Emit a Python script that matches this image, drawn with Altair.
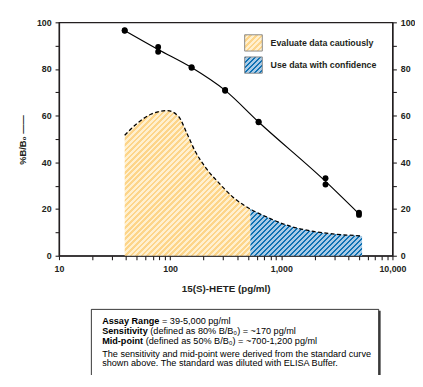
import math
import json
import altair as alt
import pandas as pd

# ---------------- data ----------------
std_conc = [39, 39, 78, 78, 156, 156, 312.5, 312.5, 625, 625, 2500, 2500, 5000, 5000]
std_bb0 = [96.6, 96.4, 89.4, 87.4, 80.8, 80.5, 71.0, 70.7, 57.4, 57.2, 33.2, 30.5, 18.4, 17.5]

zone_conc = [39, 51, 67, 94, 119, 141, 167, 212, 277, 364, 527, 716, 1075, 1845, 3165, 5330]
zone_bb0 = [51.6, 56.9, 60.6, 62.2, 59.7, 52.6, 45.0, 37.3, 31.0, 25.3, 20.0, 16.9, 13.4, 10.6, 9.2, 8.5]
zone_split = 527
zone_labels = ["Evaluate data cautiously", "Use data with confidence"]

x_decades = [10, 100, 1000, 10000]
y_ticks = [0, 10, 20, 30, 40, 50, 60, 70, 80, 90, 100]

box_bold = ["Assay Range", "Sensitivity", "Mid-point"]
box_rest = ["= 39-5,000 pg/ml",
            "(defined as 80% B/B\u2080) =  ~170 pg/ml",
            "(defined as 50% B/B\u2080) =  ~700-1,200 pg/ml"]
box_note = ["The sensitivity and mid-point were derived from the standard curve",
            "shown above. The standard was diluted with ELISA Buffer."]

# ---------------- tables ----------------
std_df = pd.DataFrame({"conc": std_conc, "bb0": std_bb0})
mean_df = std_df.groupby("conc", as_index=False)["bb0"].mean()
curve_df = pd.DataFrame({"conc": zone_conc, "bb0": zone_bb0})
yel = curve_df[curve_df.conc <= zone_split]
blu = curve_df[curve_df.conc >= zone_split]

# ---------------- geometry / style ----------------
W, H = 340, 238
FONT = "Liberation Sans"
INK = "#231f20"
Y_DARK, Y_LIGHT = "#fdd58a", "#fff0cf"
B_DARK, B_LIGHT = "#0f72b4", "#a9cbe6"
BOX_FS = 9.3
# Arial/Liberation bold advance widths (em) for laying out the bold run
BOLD_EM = {"A": .722, "s": .556, "a": .556, "y": .556, " ": .278, "R": .722, "n": .611,
           "g": .611, "e": .556, "S": .667, "i": .278, "t": .333, "v": .556, "M": .833,
           "d": .611, "-": .333, "p": .611, "o": .611}


def bold_width(s, fs):
    return sum(BOLD_EM.get(ch, .6) for ch in s) * fs


def px(v):
    return W * (math.log10(v) - 1) / 3


def stripes(dark, light, w, h, period, frac=0.5):
    n = (w + h) / math.sqrt(2) / period
    stops = []
    for i in range(int(math.ceil(n))):
        a, b, c = min(i / n, 1), min((i + frac) / n, 1), min((i + 1) / n, 1)
        stops += [(a, dark), (b, dark), (b, light), (c, light)]
    d = w * w + h * h
    return {"gradient": "linear", "x1": 0, "y1": 0,
            "x2": w * (w + h) / d, "y2": h * (w + h) / d,
            "stops": [{"offset": round(o, 5), "color": col} for o, col in stops]}


grad_y = stripes(Y_DARK, Y_LIGHT, px(yel.conc.max()) - px(yel.conc.min()),
                 H * yel.bb0.max() / 100, 4.0)
grad_b = stripes(B_DARK, B_LIGHT, px(blu.conc.max()) - px(blu.conc.min()),
                 H * blu.bb0.max() / 100, 3.6, 0.45)
SW_W, SW_H = 18, 16.6
sym_y = stripes(Y_DARK, Y_LIGHT, SW_W, SW_H, 4.0)
sym_b = stripes(B_DARK, B_LIGHT, SW_W, SW_H, 3.6, 0.45)

x_ticks = [d * k for d in x_decades[:-1] for k in range(1, 10)] + [x_decades[-1]]

X = alt.X("conc:Q",
          scale=alt.Scale(type="log", domain=[10, 10000], nice=False, zero=False),
          axis=alt.Axis(values=x_ticks, labelOverlap=False, labelFlush=False,
                        labelExpr="indexof(%s, datum.value) >= 0 ? format(datum.value, ',') : ''" % json.dumps(x_decades),
                        labelPadding=5,
                        title="15(S)-HETE (pg/ml)", titleFontSize=10, titleX=170, titleY=33,
                        titleBaseline="middle", titleAlign="center"))
Y = alt.Y("bb0:Q", stack=None,
          scale=alt.Scale(domain=[0, 100], nice=False, zero=False),
          axis=alt.Axis(values=y_ticks, labelExpr="datum.value % 20 == 0 ? datum.label : ''",
                        labelPadding=4, title="%B/B\u2080 \u2014\u2014", titleFontSize=9.5,
                        titleAngle=270, titleX=-37.5, titleY=119.5,
                        titleAlign="center", titleBaseline="middle"))
Y_right = alt.Y("bb0:Q", scale=alt.Scale(domain=[0, 100], nice=False, zero=False),
                axis=alt.Axis(orient="right", values=y_ticks,
                              labelExpr="datum.value % 20 == 0 ? datum.label : ''",
                              labelPadding=4, title=None))

area_y = alt.Chart(yel).mark_area(interpolate="monotone", fill=grad_y).encode(x=X, y=Y)
area_b = alt.Chart(blu).mark_area(interpolate="monotone", fill=grad_b).encode(x=X, y=Y)

dashed = alt.Chart(curve_df).mark_line(interpolate="monotone", color="black", strokeWidth=1.3,
                                       strokeDash=[4, 2.5]).encode(x=X, y=Y)
fit = alt.Chart(mean_df).mark_line(interpolate="monotone", color="black",
                                   strokeWidth=1.2).encode(x=X, y=Y)

one = pd.DataFrame({"k": [0]})

# legend (drawn by hand so the swatches can carry the hatch)
leg_x, leg_y, leg_step = 189.3, 12.7, 22.6
legend_layers = []
for i, g in enumerate([sym_y, sym_b]):
    legend_layers.append(alt.Chart(one).mark_rect(fill=g, stroke="#8c8c8c", strokeWidth=1).encode(
        x=alt.value(leg_x), x2=alt.value(leg_x + SW_W),
        y=alt.value(leg_y + i * leg_step), y2=alt.value(leg_y + i * leg_step + SW_H)))
    legend_layers.append(alt.Chart(pd.DataFrame({"t": [zone_labels[i]]})).mark_text(
        align="left", baseline="middle", font=FONT, fontSize=9, fontWeight="bold", color=INK
    ).encode(text="t:N", x=alt.value(leg_x + SW_W + 8.4),
             y=alt.value(leg_y + i * leg_step + SW_H / 2)))

shadow = alt.Chart(one).mark_rect(fill="#444").encode(
    x=alt.value(34.5), x2=alt.value(328), y=alt.value(294), y2=alt.value(400))
box = alt.Chart(one).mark_rect(fill="white", stroke="black", strokeWidth=0.8).encode(
    x=alt.value(33), x2=alt.value(326), y=alt.value(292.7), y2=alt.value(400))

texts = []
TX = 44
line_y = [305, 315, 324.5]
for i in range(3):
    texts.append(alt.Chart(pd.DataFrame({"t": [box_bold[i]]})).mark_text(
        align="left", baseline="middle", font=FONT, fontSize=BOX_FS, fontWeight="bold",
        color="black").encode(text="t:N", x=alt.value(TX), y=alt.value(line_y[i])))
    rx = TX + bold_width(box_bold[i] + " ", BOX_FS)
    texts.append(alt.Chart(pd.DataFrame({"t": [box_rest[i]]})).mark_text(
        align="left", baseline="middle", font=FONT, fontSize=BOX_FS,
        color="black").encode(text="t:N", x=alt.value(rx), y=alt.value(line_y[i])))
for i, yv in enumerate([338, 347.5]):
    texts.append(alt.Chart(pd.DataFrame({"t": [box_note[i]]})).mark_text(
        align="left", baseline="middle", font=FONT, fontSize=BOX_FS,
        color="black").encode(text="t:N", x=alt.value(TX), y=alt.value(yv)))

inner = alt.layer(area_y, area_b, dashed, fit, *legend_layers, shadow, box, *texts)

points = alt.Chart(std_df).mark_circle(size=36, color="black", opacity=1).encode(x=X, y=Y_right)

chart = alt.layer(inner, points).resolve_scale(y="independent").properties(
    width=W, height=H,
    autosize=alt.AutoSizeParams(type="none"),
    padding={"left": 52, "top": 11, "right": 23, "bottom": 118},
).configure_view(stroke=INK, strokeWidth=1.3).configure_axis(
    domainColor=INK, domainWidth=1.3, tickColor=INK, tickWidth=1.1, tickSize=4,
    labelFont=FONT, labelFontWeight="bold", labelFontSize=9, labelColor=INK,
    titleFont=FONT, titleFontWeight="bold", titleColor=INK, grid=False)

chart.save("out.html", embed_options={"renderer": "svg", "actions": False})
